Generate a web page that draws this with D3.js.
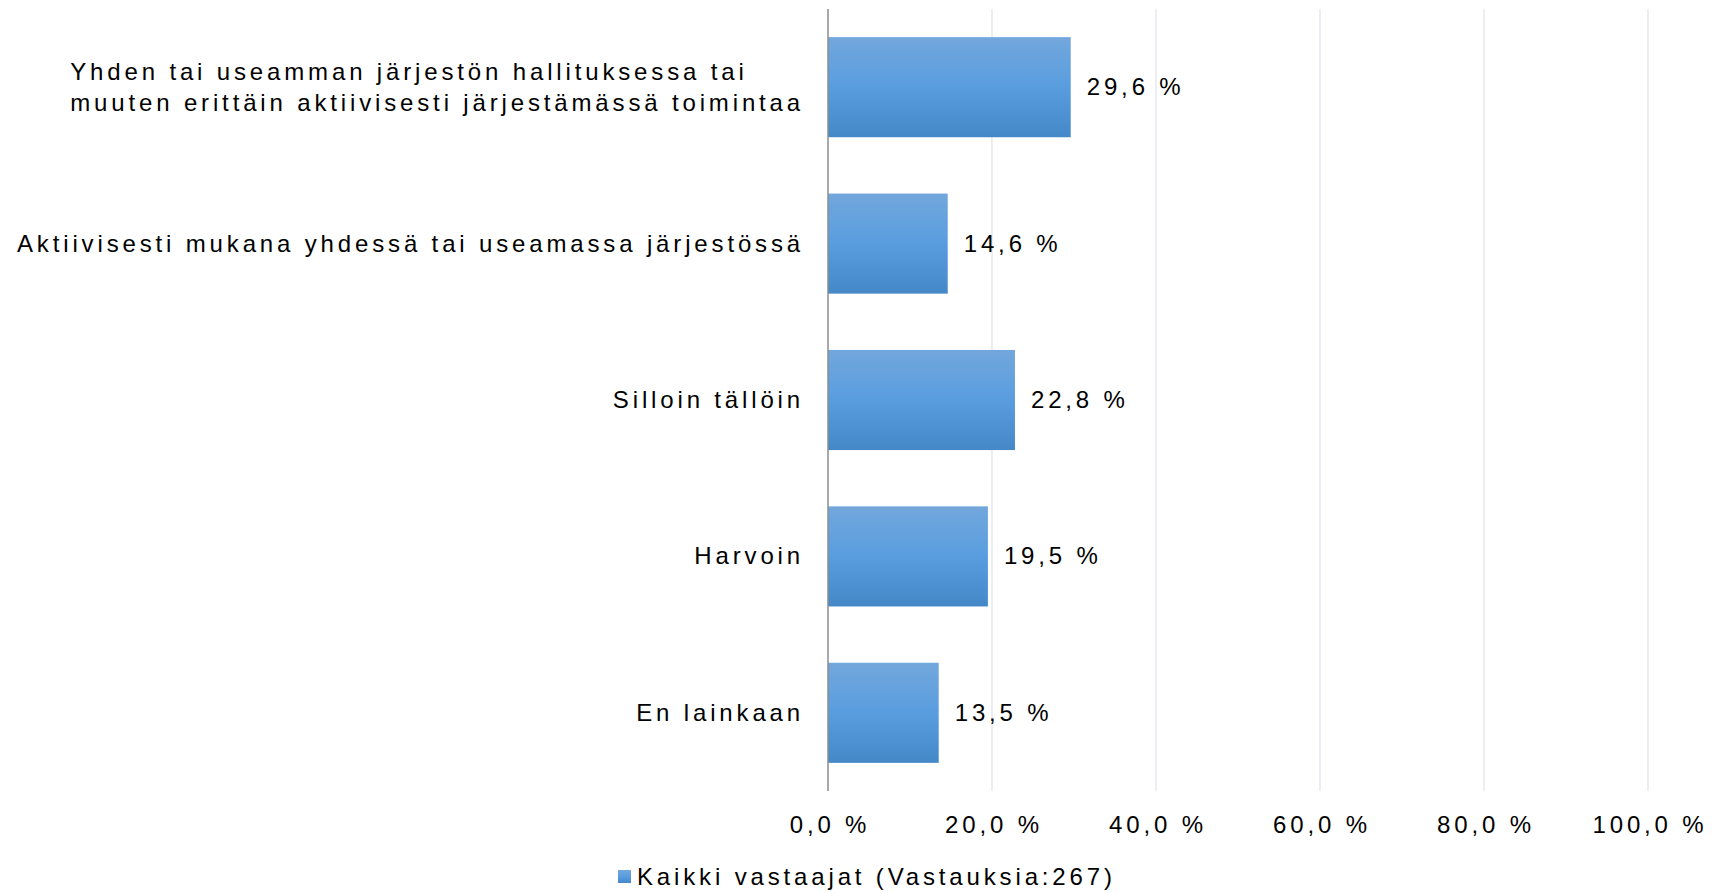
<!DOCTYPE html>
<html>
<head>
<meta charset="utf-8">
<script src="https://cdn.jsdelivr.net/npm/d3@7"></script>
<style>
  body { margin: 0; background: #fff; }
  text { font-family: "Liberation Sans", Arial, sans-serif; fill: #000; letter-spacing: 3.85px; }
</style>
</head>
<body>
<svg></svg>
<script>
const categories = [
  ["Yhden tai useamman järjestön hallituksessa tai", "muuten erittäin aktiivisesti järjestämässä toimintaa"],
  ["Aktiivisesti mukana yhdessä tai useamassa järjestössä"],
  ["Silloin tällöin"],
  ["Harvoin"],
  ["En lainkaan"]
];
const values = [29.6, 14.6, 22.8, 19.5, 13.5];
const ticks = [0, 20, 40, 60, 80, 100];
const seriesName = "Kaikki vastaajat (Vastauksia:267)";

const width = 1714;
const height = 893;
const plotLeft = 828;
const plotRight = 1648;
const plotTop = 9;
const plotBottom = 791;
const fontSize = 24;

const fmt = (v) => v.toFixed(1).replace(".", ",") + " %";

const svg = d3.select("svg")
  .attr("width", width)
  .attr("height", height);

const defs = svg.append("defs");
const grad = defs.append("linearGradient")
  .attr("id", "barGrad")
  .attr("x1", 0).attr("y1", 0).attr("x2", 0).attr("y2", 1);
grad.append("stop").attr("offset", "0%").attr("stop-color", "#72a7dc");
grad.append("stop").attr("offset", "50%").attr("stop-color", "#599ddf");
grad.append("stop").attr("offset", "100%").attr("stop-color", "#4588c8");

const xScale = d3.scaleLinear().domain([0, 100]).range([plotLeft, plotRight]);
const yScale = d3.scaleBand()
  .domain(d3.range(categories.length))
  .range([plotTop, plotBottom])
  .paddingInner(0.36)
  .paddingOuter(0.18);

// gridlines
svg.append("g")
  .selectAll("line")
  .data(ticks.slice(1))
  .enter()
  .append("line")
  .attr("x1", (d) => xScale(d))
  .attr("x2", (d) => xScale(d))
  .attr("y1", plotTop)
  .attr("y2", plotBottom)
  .attr("stroke", "#dde3ea")
  .attr("stroke-width", 1.2);

// bars
svg.append("g")
  .selectAll("rect")
  .data(values)
  .enter()
  .append("rect")
  .attr("x", xScale(0))
  .attr("y", (d, i) => yScale(i))
  .attr("width", (d) => xScale(d) - xScale(0))
  .attr("height", yScale.bandwidth())
  .attr("fill", "url(#barGrad)");

// axis line
svg.append("line")
  .attr("x1", xScale(0)).attr("x2", xScale(0))
  .attr("y1", plotTop).attr("y2", plotBottom)
  .attr("stroke", "#8c8c8c")
  .attr("stroke-width", 1.5);

// value labels
svg.append("g")
  .selectAll("text")
  .data(values)
  .enter()
  .append("text")
  .attr("x", (d) => xScale(d) + 16)
  .attr("y", (d, i) => yScale(i) + yScale.bandwidth() / 2 + 8)
  .attr("font-size", fontSize)
  .text((d) => fmt(d));

// category labels: block right-aligned to the axis, lines left-aligned inside
const catG = svg.append("g");
const labelRight = plotLeft - 24;
categories.forEach((lines, i) => {
  const cy = yScale(i) + yScale.bandwidth() / 2;
  const lh = 31;
  const t = catG.append("text").attr("font-size", fontSize);
  const spans = lines.map((line, j) =>
    t.append("tspan")
      .attr("y", cy + 8 + (j - (lines.length - 1) / 2) * lh)
      .text(line)
  );
  const maxW = d3.max(spans, (s) => s.node().getComputedTextLength());
  spans.forEach((s) => s.attr("x", labelRight - maxW));
});

// x tick labels
svg.append("g")
  .selectAll("text")
  .data(ticks)
  .enter()
  .append("text")
  .attr("x", (d) => xScale(d) + 2)
  .attr("y", 833)
  .attr("text-anchor", "middle")
  .attr("font-size", fontSize)
  .text((d) => fmt(d));

// legend
const legend = svg.append("g").attr("id", "legend");
legend.append("rect")
  .attr("x", 618)
  .attr("y", 870)
  .attr("width", 13)
  .attr("height", 13)
  .attr("fill", "url(#barGrad)");
legend.append("text")
  .attr("x", 637)
  .attr("y", 885)
  .attr("font-size", fontSize)
  .text(seriesName);
</script>
</body>
</html>
